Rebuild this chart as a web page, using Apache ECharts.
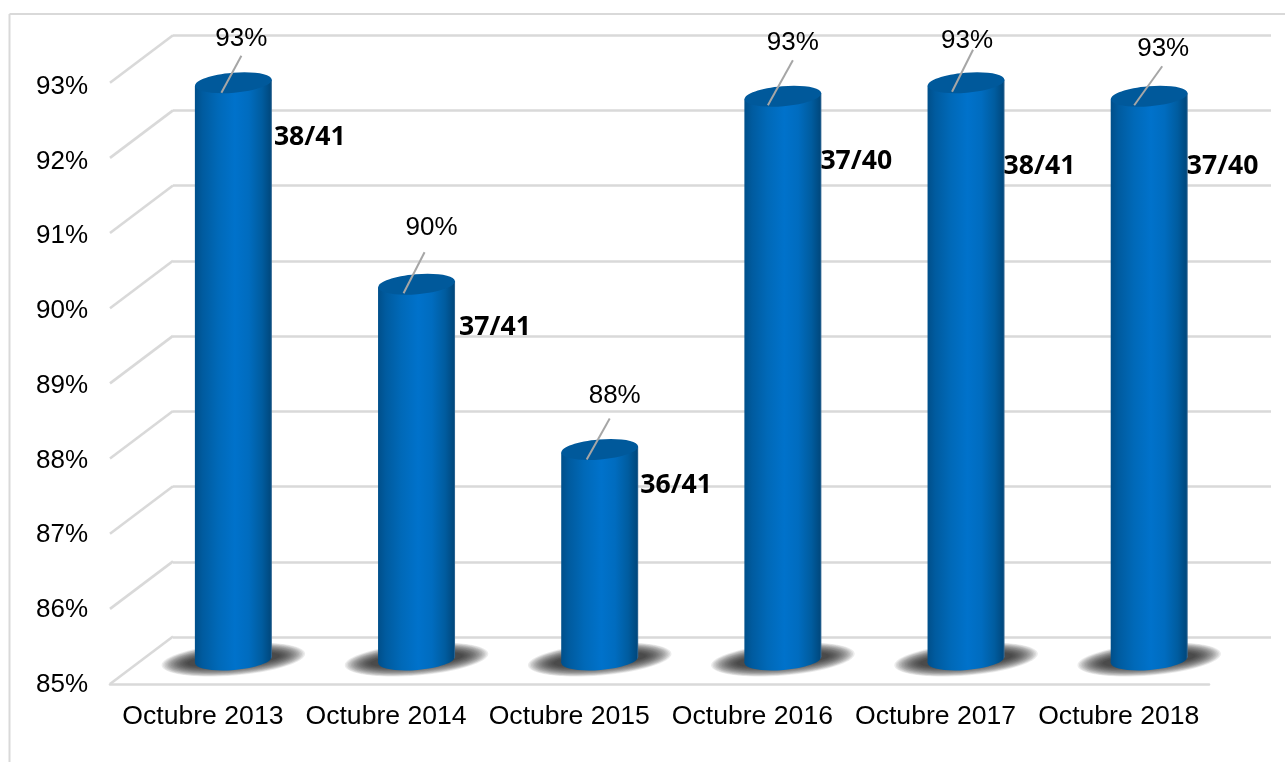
<!DOCTYPE html>
<html><head><meta charset="utf-8">
<style>html,body{margin:0;padding:0;background:#fff}#c{width:1285px;height:762px}</style>
<script src="https://cdn.jsdelivr.net/npm/echarts@6/dist/echarts.min.js"></script>
</head><body><div id="c"></div>
<script>
const categories = ['Octubre 2013','Octubre 2014','Octubre 2015','Octubre 2016','Octubre 2017','Octubre 2018'];
const values = [92.68, 90.0, 87.8, 92.5, 92.68, 92.5];
const percentLabels = ['93%','90%','88%','93%','93%','93%'];
const ratioLabels = ['38/41','37/41','36/41','37/40','38/41','37/40'];
const yMin = 85, yMax = 93, yStep = 1;

// Hand-placed annotation layout, relative to each cylinder top centre
const leaderFrom = [[-12,10],[-13,9],[-13,10],[-15,9],[-14,9],[-15,9]];
const leaderTo   = [[8,-27],[8,-32],[10,-31],[10,-36],[7,-33],[13,-30]];
const pctAt      = [[8,-44],[15,-56],[15,-54],[10,-53],[1,-42],[14,-47]];
const ratioAt    = [[2,55],[4,43],[2,36],[-1,65],[-1,84],[-1,70]];

const gridColor = '#d9d9d9';
const R = 38.5, RY = 10, TILT = Math.atan(6.5/77);
const arial = '"Liberation Sans", Arial, sans-serif';
const LINE = 2.6;

const ticks = [];
for (let v = yMin; v <= yMax; v += yStep) ticks.push(v);

function bodyFill(){
  return new echarts.graphic.LinearGradient(0,0,1,0,[
    {offset:0,color:'#004f8a'},{offset:0.1,color:'#005b9f'},{offset:0.3,color:'#0069b8'},
    {offset:0.52,color:'#0072cb'},{offset:0.7,color:'#006cbf'},{offset:0.87,color:'#005c9f'},
    {offset:0.98,color:'#00497f'},{offset:1,color:'#3f6f98'}]);
}

const SHADOW_LAYERS = 18;

const option = {
  animation:false, backgroundColor:'#fff',
  textStyle:{fontFamily:arial},
  grid:[
    {left:173,top:35,width:1098,height:602},        // back wall
    {left:110,top:82.7,width:1099,height:601.3},    // front plane
    {left:141.8,top:58.7,width:1099,height:601.3},  // mid depth, where cylinders stand
    {left:111.3,top:86.7,width:1099,height:598}     // tick label placement
  ],
  xAxis:[
    {gridIndex:0,type:'category',data:categories,show:false},
    {gridIndex:1,type:'category',data:categories,
      axisLine:{show:true,lineStyle:{color:gridColor,width:LINE}},axisTick:{show:false},axisLabel:{show:false}},
    {gridIndex:2,type:'category',data:categories,show:false},
    {gridIndex:3,type:'category',data:categories,
      axisLine:{show:false},axisTick:{show:false},
      axisLabel:{fontSize:26.6,color:'#000',margin:18,interval:0,fontFamily:arial}}
  ],
  yAxis:[
    {gridIndex:0,type:'value',min:yMin,max:yMax,interval:yStep,
      axisLine:{show:false},axisTick:{show:false},axisLabel:{show:false},
      splitLine:{show:true,lineStyle:{color:gridColor,width:LINE}}},
    {gridIndex:1,type:'value',min:yMin,max:yMax,interval:yStep,
      axisLine:{show:false},axisTick:{show:false},splitLine:{show:false},axisLabel:{show:false}},
    {gridIndex:2,type:'value',min:yMin,max:yMax,interval:yStep,show:false,splitLine:{show:false}},
    {gridIndex:3,type:'value',min:yMin,max:yMax,interval:yStep,
      axisLine:{show:false},axisTick:{show:false},splitLine:{show:false},
      axisLabel:{fontSize:26,color:'#000',margin:23.3,formatter:'{value}%',fontFamily:arial}}
  ],
  series:[
    { // floor/wall diagonals
      type:'custom',xAxisIndex:1,yAxisIndex:1,clip:false,silent:true,z:1,
      data:ticks.map(t=>[0,t]),
      renderItem(params,api){
        const y=api.coord([0,api.value(1)])[1], x=params.coordSys.x;
        return {type:'line',shape:{x1:x,y1:y,x2:x+63,y2:y-47.5},
          style:{stroke:gridColor,lineWidth:LINE,fill:null}};
      }
    },
    { // cylinders
      type:'custom',xAxisIndex:2,yAxisIndex:2,clip:false,silent:true,z:3,
      data:values.map((v,i)=>[i,v]),
      renderItem(params,api){
        const i=params.dataIndex, top=api.coord([i,api.value(1)]), base=api.coord([i,yMin]);
        const cx=top[0], yt=top[1], yb=base[1], d=R*Math.sin(TILT)*0.95;
        const ell=(cy,rx,ry,style)=>({type:'ellipse',x:cx,y:cy,rotation:TILT,
          shape:{cx:0,cy:0,rx:rx,ry:ry},style:style});
        const [tx,ty]=[cx+pctAt[i][0],yt+pctAt[i][1]];
        const shadow=[];
        for(let k=0;k<SHADOW_LAYERS;k++){
          const t=k/(SHADOW_LAYERS-1);
          shadow.push(ell(yb-0.5,72-t*26,16-t*10,{fill:'rgba(30,30,30,0.085)'}));
        }
        return {type:'group',children:shadow.concat([
          ell(yb,R,RY,{fill:bodyFill()}),
          {type:'polygon',shape:{points:[[cx-R,yt+d],[cx+R,yt-d],[cx+R,yb-d],[cx-R,yb+d]]},style:{fill:bodyFill()}},
          ell(yt,R,RY,{fill:'#00599b'}),
          {type:'line',shape:{x1:cx+leaderFrom[i][0],y1:yt+leaderFrom[i][1],x2:cx+leaderTo[i][0],y2:yt+leaderTo[i][1]},
            style:{stroke:'#a6a6a6',lineWidth:2,fill:null}},
          {type:'text',x:tx,y:ty,style:{text:percentLabels[i],fill:'#000',
            font:'26px '+arial,align:'center',verticalAlign:'middle'}},
          {type:'text',x:cx+R+ratioAt[i][0],y:yt+ratioAt[i][1],style:{text:ratioLabels[i],fill:'#000',
            font:'bold 26.6px "Open Sans", sans-serif',align:'left',verticalAlign:'middle'}}
        ])};
      }
    }
  ],
  graphic:[
    {type:'line',silent:true,shape:{x1:9.5,y1:14,x2:9.5,y2:762},style:{stroke:gridColor,lineWidth:2}},
    {type:'line',silent:true,shape:{x1:9.5,y1:14,x2:1285,y2:14},style:{stroke:gridColor,lineWidth:2}}
  ]
};
echarts.init(document.getElementById('c'),null,{renderer:'canvas'}).setOption(option);
</script></body></html>
